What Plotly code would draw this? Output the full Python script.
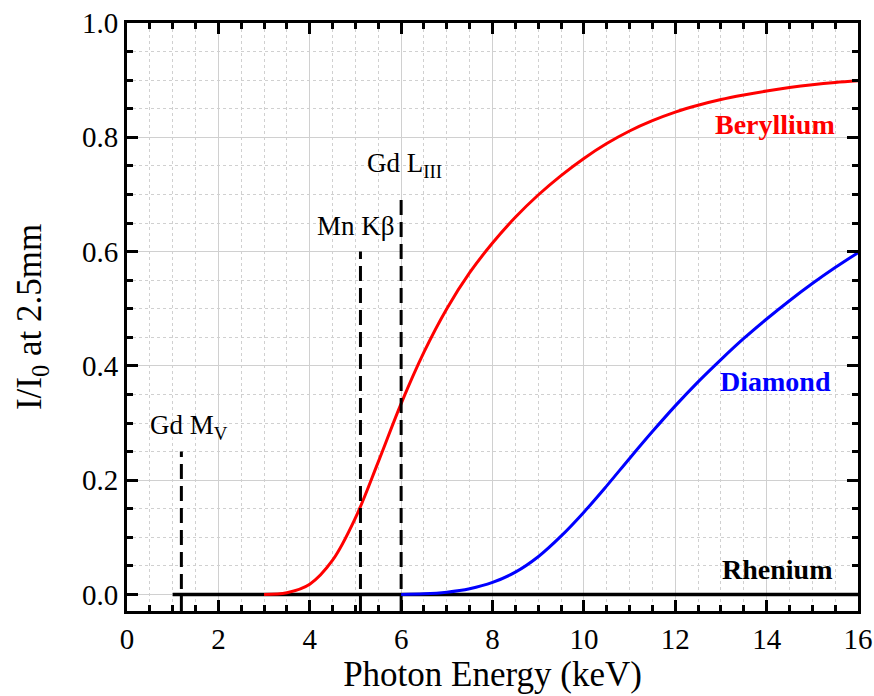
import plotly.graph_objects as go

# ---- data ----
be_energy = [3.0, 3.5, 4.0, 4.5, 5.0, 5.5, 6.0, 6.5, 7.0, 7.5, 8.0, 8.5, 9.0, 9.5,
             10.0, 10.5, 11.0, 11.5, 12.0, 12.5, 13.0, 13.5, 14.0, 14.5, 15.0, 15.5, 16.0]
be_trans = [0.000, 0.003, 0.018, 0.060, 0.134, 0.232, 0.334, 0.424, 0.500, 0.563, 0.615,
            0.660, 0.699, 0.733, 0.763, 0.789, 0.811, 0.829, 0.844, 0.856, 0.866, 0.874,
            0.881, 0.887, 0.892, 0.896, 0.899]

dia_energy = [6.0, 6.5, 7.0, 7.5, 8.0, 8.5, 9.0, 9.5, 10.0, 10.5, 11.0, 11.5, 12.0, 12.5,
              13.0, 13.5, 14.0, 14.5, 15.0, 15.5, 16.0]
dia_trans = [0.000, 0.001, 0.004, 0.010, 0.021, 0.039, 0.066, 0.102, 0.144, 0.190, 0.238,
             0.285, 0.330, 0.372, 0.411, 0.448, 0.482, 0.514, 0.544, 0.572, 0.598]

re_energy = [1.0, 16.0]
re_trans = [0.0, 0.0]

edge_names = ["Gd M<sub>V</sub>", "Mn Kβ", "Gd L<sub>III</sub>"]
edge_energy = [1.19, 5.11, 6.0]
edge_height = [0.25, 0.60, 0.70]

x_range = [0, 16]
y_range = [-0.029, 1.0]

FONT = "Liberation Serif"

fig = go.Figure()

fig.add_trace(go.Scatter(x=re_energy, y=re_trans, mode="lines",
                         line=dict(color="black", width=3.5), showlegend=False))
fig.add_trace(go.Scatter(x=be_energy, y=be_trans, mode="lines",
                         line=dict(color="#ff0000", width=3, shape="spline", smoothing=1.0),
                         showlegend=False))
fig.add_trace(go.Scatter(x=dia_energy, y=dia_trans, mode="lines",
                         line=dict(color="#0000ff", width=3, shape="spline", smoothing=1.0),
                         showlegend=False))

for e, h in zip(edge_energy, edge_height):
    fig.add_trace(go.Scatter(x=[e, e], y=[y_range[0], h], mode="lines",
                             line=dict(color="black", width=3, dash="15px,7px"),
                             showlegend=False))

# edge labels
fig.add_annotation(x=0.45, y=0.293, text=edge_names[0], xanchor="left", yanchor="middle",
                   showarrow=False, font=dict(family=FONT, size=27, color="black"))
fig.add_annotation(x=5.91, y=0.645, text=edge_names[1], xanchor="right", yanchor="middle",
                   showarrow=False, font=dict(family=FONT, size=27, color="black"))
fig.add_annotation(x=5.22, y=0.752, text=edge_names[2], xanchor="left", yanchor="middle",
                   showarrow=False, font=dict(family=FONT, size=27, color="black"))

# series labels
fig.add_annotation(x=15.54, y=0.822, text="<b>Beryllium</b>", xanchor="right", yanchor="middle",
                   showarrow=False, font=dict(family=FONT, size=28, color="#ff0000"))
fig.add_annotation(x=15.45, y=0.372, text="<b>Diamond</b>", xanchor="right", yanchor="middle",
                   showarrow=False, font=dict(family=FONT, size=28, color="#0000ff"))
fig.add_annotation(x=15.47, y=0.044, text="<b>Rhenium</b>", xanchor="right", yanchor="middle",
                   showarrow=False, font=dict(family=FONT, size=28, color="black"))

axis_common = dict(
    showline=True, linecolor="black", linewidth=3, mirror="ticks",
    ticks="inside", ticklen=11, tickwidth=3, tickcolor="black",
    showgrid=True, gridcolor="#d0d0d0", gridwidth=1,
    zeroline=False,
    tickfont=dict(family=FONT, size=29, color="black"),
)

fig.update_xaxes(range=x_range, dtick=2, tick0=0,
                 minor=dict(dtick=0.5, ticks="inside", ticklen=6, tickwidth=3, tickcolor="black",
                            showgrid=True, gridcolor="#d0d0d0", griddash="dot", gridwidth=1),
                 title=dict(text="Photon Energy (keV)", font=dict(family=FONT, size=35, color="black"),
                            standoff=8),
                 **axis_common)
fig.update_yaxes(range=y_range, dtick=0.2, tick0=0, tickformat=".1f",
                 minor=dict(dtick=0.05, ticks="inside", ticklen=6, tickwidth=3, tickcolor="black",
                            showgrid=True, gridcolor="#d0d0d0", griddash="dot", gridwidth=1),
                 title=dict(text="I/I<sub>0</sub> at 2.5mm", font=dict(family=FONT, size=35, color="black"),
                            standoff=30),
                 **axis_common)

fig.update_layout(width=874, height=696, margin=dict(l=127, r=16, t=23, b=85, autoexpand=False),
                  plot_bgcolor="white", paper_bgcolor="white",
                  font=dict(family=FONT, color="black"))

fig.write_html("out.html")
